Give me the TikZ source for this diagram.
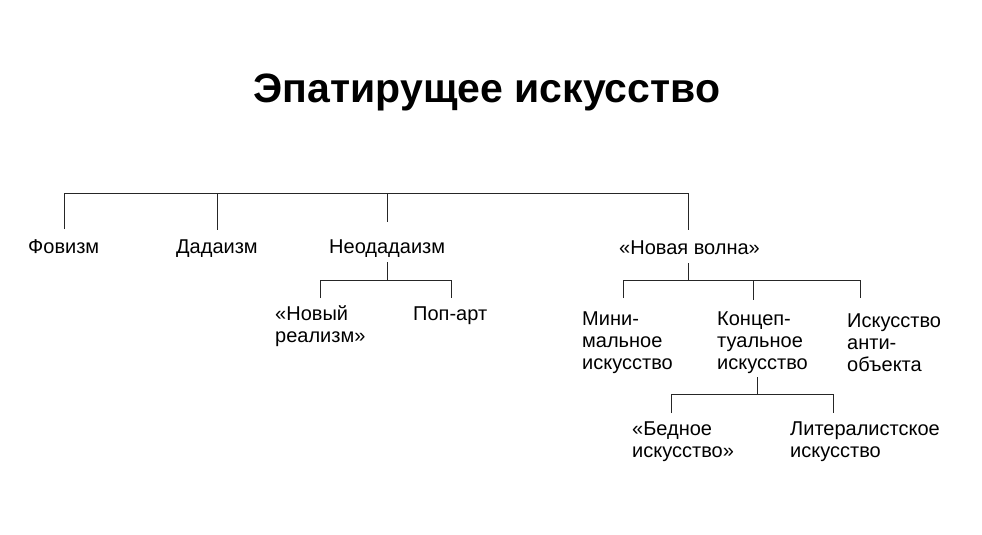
\documentclass[tikz,border=0pt]{standalone}
\usepackage{fontspec}
\setmainfont{Liberation Sans}
\begin{document}
\begin{tikzpicture}[x=1pt,y=-1pt,
  lbl/.style={anchor=base west,inner sep=0pt,align=left,font=\fontsize{20}{22}\selectfont},
  conn/.style={draw=black!85,line width=0.9pt}]
\useasboundingbox[fill=white] (0,0) rectangle (982,535);
\node[anchor=base,inner sep=0pt,font=\fontsize{41}{46}\selectfont\bfseries] (title) at (487,102) {Эпатирущее искусство};
\node[lbl] (fov) at (28,253) {Фовизм};
\node[lbl] (dad) at (176,253) {Дадаизм};
\node[lbl] (neo) at (329,253) {Неодадаизм};
\node[lbl] (nw) at (619,254) {«Новая волна»};
\node[lbl] (nr) at (275,342) {«Новый\\реализм»};
\node[lbl] (pop) at (413,320) {Поп-арт};
\node[lbl] (mini) at (582,369) {Мини-\\мальное\\искусство};
\node[lbl] (konc) at (717,369) {Концеп-\\туальное\\искусство};
\node[lbl] (anti) at (847,371) {Искусство\\анти-\\объекта};
\node[lbl] (bed) at (632,457) {«Бедное\\искусство»};
\node[lbl] (lit) at (790,457) {Литералистское\\искусство};
% top bus
\coordinate (t1) at (64,193); \coordinate (t1e) at (64,229);
\coordinate (t2) at (217,193); \coordinate (t2e) at (217,230);
\coordinate (t3) at (387,193); \coordinate (t3e) at (387,222);
\coordinate (t4) at (688,193); \coordinate (t4e) at (688,230);
\draw[conn] (t1e) -- (t1) -- (t4) -- (t4e);
\draw[conn] (t2) -- (t2e);
\draw[conn] (t3) -- (t3e);
% neo subtree
\coordinate (n0) at (387,262); \coordinate (n1) at (387,280);
\coordinate (n2) at (320,280); \coordinate (n2e) at (320,298);
\coordinate (n3) at (451,280); \coordinate (n3e) at (451,298);
\draw[conn] (n0) -- (n1);
\draw[conn] (n2e) -- (n2) -- (n3) -- (n3e);
% new wave subtree
\coordinate (w0) at (688,263); \coordinate (w1) at (688,280);
\coordinate (w2) at (623,280); \coordinate (w2e) at (623,298);
\coordinate (w3) at (753,280); \coordinate (w3e) at (753,300);
\coordinate (w4) at (860,280); \coordinate (w4e) at (860,298);
\draw[conn] (w0) -- (w1);
\draw[conn] (w2e) -- (w2) -- (w4) -- (w4e);
\draw[conn] (w3) -- (w3e);
% conceptual subtree
\coordinate (c0) at (757,377); \coordinate (c1) at (757,394);
\coordinate (c2) at (671,394); \coordinate (c2e) at (671,413);
\coordinate (c3) at (833,394); \coordinate (c3e) at (833,413);
\draw[conn] (c0) -- (c1);
\draw[conn] (c2e) -- (c2) -- (c3) -- (c3e);
\end{tikzpicture}
\end{document}
